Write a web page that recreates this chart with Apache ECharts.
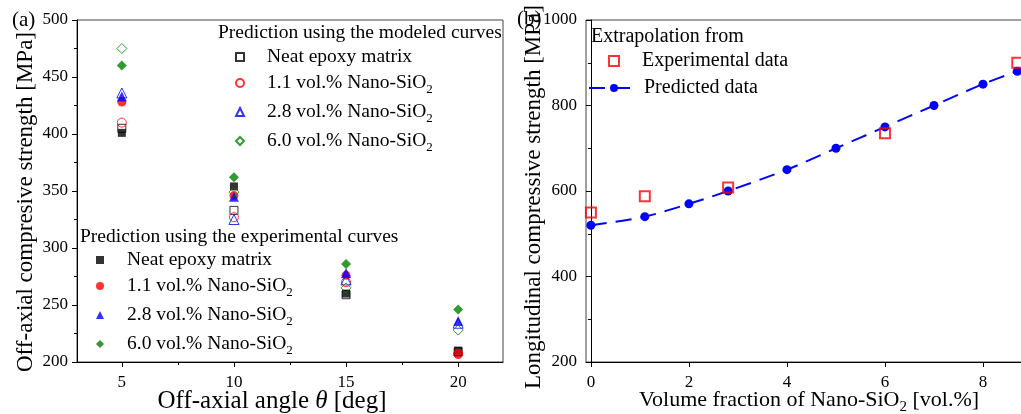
<!DOCTYPE html>
<html>
<head>
<meta charset="utf-8">
<script src="https://cdn.jsdelivr.net/npm/echarts@6/dist/echarts.min.js"></script>
<style>html,body{margin:0;padding:0;background:#fff;}#c{width:1021px;height:414px;}</style>
</head>
<body>
<div id="c"></div>
<script>
// ---- Panel (a) data ----
const angles = [5, 10, 15, 20];
const modNeat = [405, 333, 259, 209];
const mod11 = [410, 327, 270, 207];
const mod28 = [436, 325, 272, 234];
const mod60 = [475, 349, 265, 228];
const expNeat = [401, 354, 260, 210];
const exp11 = [428, 346, 276, 207];
const exp28 = [433, 345, 278, 236];
const exp60 = [460, 362, 286, 246];
const angleTicks = [5, 10, 15, 20];
const angleMinorTicks = [7.5, 12.5, 17.5];
// ---- Panel (b) data ----
const fracPred = [0, 1.1, 2, 2.8, 4, 5, 6, 7, 8, 8.7];
const strPred = [520, 540, 570, 600, 650, 700, 750, 800, 850, 880];
const fracExp = [0, 1.1, 2.8, 6, 8.7];
const strExp = [550, 588, 608, 735, 900];
const fracTicks = [0, 2, 4, 6, 8];

const labelsA = ['Neat epoxy matrix', '1.1 vol.% Nano-SiO{s|2}', '2.8 vol.% Nano-SiO{s|2}', '6.0 vol.% Nano-SiO{s|2}'];

const FONT = 'Liberation Serif';
const pair = (xs, ys) => xs.map((x, i) => [x, ys[i]]);
const colors = ['#000000', '#ff0000', '#0000ff', '#008000'];
const symbols = ['rect', 'circle', 'triangle', 'diamond'];
const expSizes = [8, 9, 10, 10];
const modSizes = [8, 9, 10, 10];
const expData = [expNeat, exp11, exp28, exp60];
const modData = [modNeat, mod11, mod28, mod60];

const legRich = {
  s: {fontSize: 13, fontFamily: FONT, color: '#000', verticalAlign: 'bottom', lineHeight: 26},
  g: {width: 18, fontSize: 18, fontFamily: FONT}
};
const legRichB = {
  g: {width: 18, fontSize: 18, fontFamily: FONT}
};

const series = [];
for (let i = 0; i < 4; i++) {
  series.push({
    name: 'e' + i, type: 'scatter', xAxisIndex: 0, yAxisIndex: 0,
    symbol: symbols[i], symbolSize: expSizes[i],
    itemStyle: {color: colors[i]},
    data: pair(angles, expData[i]), z: 2
  });
}
for (let i = 0; i < 4; i++) {
  series.push({
    name: 'm' + i, type: 'scatter', xAxisIndex: 0, yAxisIndex: 0,
    symbol: symbols[i], symbolSize: modSizes[i],
    itemStyle: {color: 'rgba(255,255,255,0)', borderColor: colors[i], borderWidth: 1},
    data: pair(angles, modData[i]), z: 3
  });
}
series.push({
  name: 'Predicted data', type: 'line', xAxisIndex: 2, yAxisIndex: 1,
  smooth: 0.3, symbol: 'circle', symbolSize: 9, showSymbol: true,
  lineStyle: {color: '#0000ff', width: 2, type: [16, 9]},
  itemStyle: {color: '#0000ff'},
  data: pair(fracPred, strPred), z: 2
});
series.push({
  name: 'Experimental data', type: 'scatter', xAxisIndex: 2, yAxisIndex: 1,
  symbol: 'rect', symbolSize: 10,
  itemStyle: {color: 'rgba(255,255,255,0)', borderColor: '#ff0000', borderWidth: 2},
  data: pair(fracExp, strExp), z: 3
});

const axisText = {color: '#000', fontFamily: FONT, fontSize: 17};
const legText = {color: '#000', fontFamily: FONT, fontSize: 19.5, lineHeight: 20, rich: legRich};
const plain = v => String(v);
const ttl = (text, left, top, size) => ({text, left, top, padding: 0,
  textStyle: {fontFamily: FONT, fontSize: size, fontWeight: 'normal', color: '#000'}});

const option = {
  animation: false,
  backgroundColor: '#fff',
  title: [
    ttl('(a)', 12, 10, 21),
    ttl('(b)', 517, 9, 21),
    ttl('Prediction using the modeled curves', 218, 23, 19.5),
    ttl('Prediction using the experimental curves', 80, 227, 19.5),
    ttl('Extrapolation from', 591, 27, 20)
  ],
  grid: [
    {left: 77, top: 20, width: 426, height: 342, show: true, borderColor: '#444', borderWidth: 1, outerBoundsMode: 'none'},
    {left: 586, top: 20, width: 446, height: 342, show: true, borderColor: '#444', borderWidth: 1, outerBoundsMode: 'none'}
  ],
  xAxis: [
    {
      type: 'value', gridIndex: 0, min: 3, max: 22, position: 'bottom',
      name: 'Off-axial angle {i|θ} [deg]', nameLocation: 'middle', nameGap: 27, nameMoveOverlap: false,
      nameTextStyle: {color: '#000', fontFamily: FONT, fontSize: 25, padding: [0, 36, 0, 0],
        rich: {i: {fontFamily: FONT, fontSize: 25, fontStyle: 'italic', color: '#000'}}},
      axisLine: {lineStyle: {color: '#000'}},
      axisTick: {show: true, length: 5, customValues: angleTicks, lineStyle: {color: '#000'}},
      axisLabel: Object.assign({margin: 12, customValues: angleTicks, formatter: plain}, axisText),
      splitLine: {show: false}
    },
    {
      type: 'value', gridIndex: 0, min: 3, max: 22, position: 'bottom',
      axisLine: {show: false},
      axisTick: {show: true, length: 3, customValues: angleMinorTicks, lineStyle: {color: '#000'}},
      axisLabel: {show: false},
      splitLine: {show: false}
    },
    {
      type: 'value', gridIndex: 1, min: -0.1, max: 9, position: 'bottom',
      name: 'Volume fraction of Nano-SiO{s|2} [vol.%]', nameLocation: 'middle', nameGap: 23, nameMoveOverlap: false,
      nameTextStyle: {color: '#000', fontFamily: FONT, fontSize: 22, lineHeight: 22,
        rich: {s: {fontSize: 15, fontFamily: FONT, color: '#000', verticalAlign: 'bottom', lineHeight: 30}}},
      axisLine: {lineStyle: {color: '#000'}},
      axisTick: {show: true, length: 5, customValues: fracTicks, lineStyle: {color: '#000'}},
      axisLabel: Object.assign({margin: 12, customValues: fracTicks, formatter: plain}, axisText),
      splitLine: {show: false}
    }
  ],
  yAxis: [
    {
      type: 'value', gridIndex: 0, min: 200, max: 500, interval: 50,
      name: 'Off-axial compresive strength [MPa]', nameLocation: 'middle', nameGap: 40, nameMoveOverlap: false,
      nameTextStyle: {color: '#000', fontFamily: FONT, fontSize: 23, padding: [0, 22, 0, 0]},
      axisLine: {show: true, lineStyle: {color: '#000'}},
      axisTick: {show: true, length: 5, lineStyle: {color: '#000'}},
      minorTick: {show: true, splitNumber: 2, length: 3, lineStyle: {color: '#000'}},
      axisLabel: Object.assign({margin: 9, formatter: plain}, axisText),
      splitLine: {show: false}
    },
    {
      type: 'value', gridIndex: 1, min: 200, max: 1000, interval: 200,
      name: 'Longitudinal compressive strength [MPa]', nameLocation: 'middle', nameGap: 41, nameMoveOverlap: false,
      nameTextStyle: {color: '#000', fontFamily: FONT, fontSize: 23, padding: [0, 12, 0, 0]},
      axisLine: {show: true, lineStyle: {color: '#000'}},
      axisTick: {show: true, length: 5, lineStyle: {color: '#000'}},
      minorTick: {show: true, splitNumber: 2, length: 3, lineStyle: {color: '#000'}},
      axisLabel: Object.assign({margin: 9, formatter: plain}, axisText),
      splitLine: {show: false}
    }
  ],
  legend: [
    {
      orient: 'vertical', left: 235, top: 47, padding: 0, itemGap: 3,
      itemWidth: 8, itemHeight: 8, data: ['m0', 'm1', 'm2', 'm3'],
      formatter: n => '{g| }' + labelsA[+n[1]], textStyle: legText, selectedMode: false
    },
    {
      orient: 'vertical', left: 96, top: 250, padding: 0, itemGap: 3,
      itemWidth: 8, itemHeight: 8, data: ['e0', 'e1', 'e2', 'e3'],
      formatter: n => '{g| }' + labelsA[+n[1]], textStyle: legText, selectedMode: false
    },
    {
      orient: 'vertical', left: 608, top: 51, padding: 0,
      itemWidth: 10, itemHeight: 10, data: ['Experimental data'],
      formatter: n => '{g| }' + n,
      textStyle: {color: '#000', fontFamily: FONT, fontSize: 20, lineHeight: 20, rich: legRichB}, selectedMode: false
    },
    {
      orient: 'vertical', left: 588, top: 78, padding: 0,
      itemWidth: 50, itemHeight: 10, data: ['Predicted data'],
      textStyle: {color: '#000', fontFamily: FONT, fontSize: 20, lineHeight: 20}, selectedMode: false
    }
  ],
  series: series
};

const chart = echarts.init(document.getElementById('c'), null, {renderer: 'canvas'});
chart.setOption(option);
</script>
</body>
</html>
